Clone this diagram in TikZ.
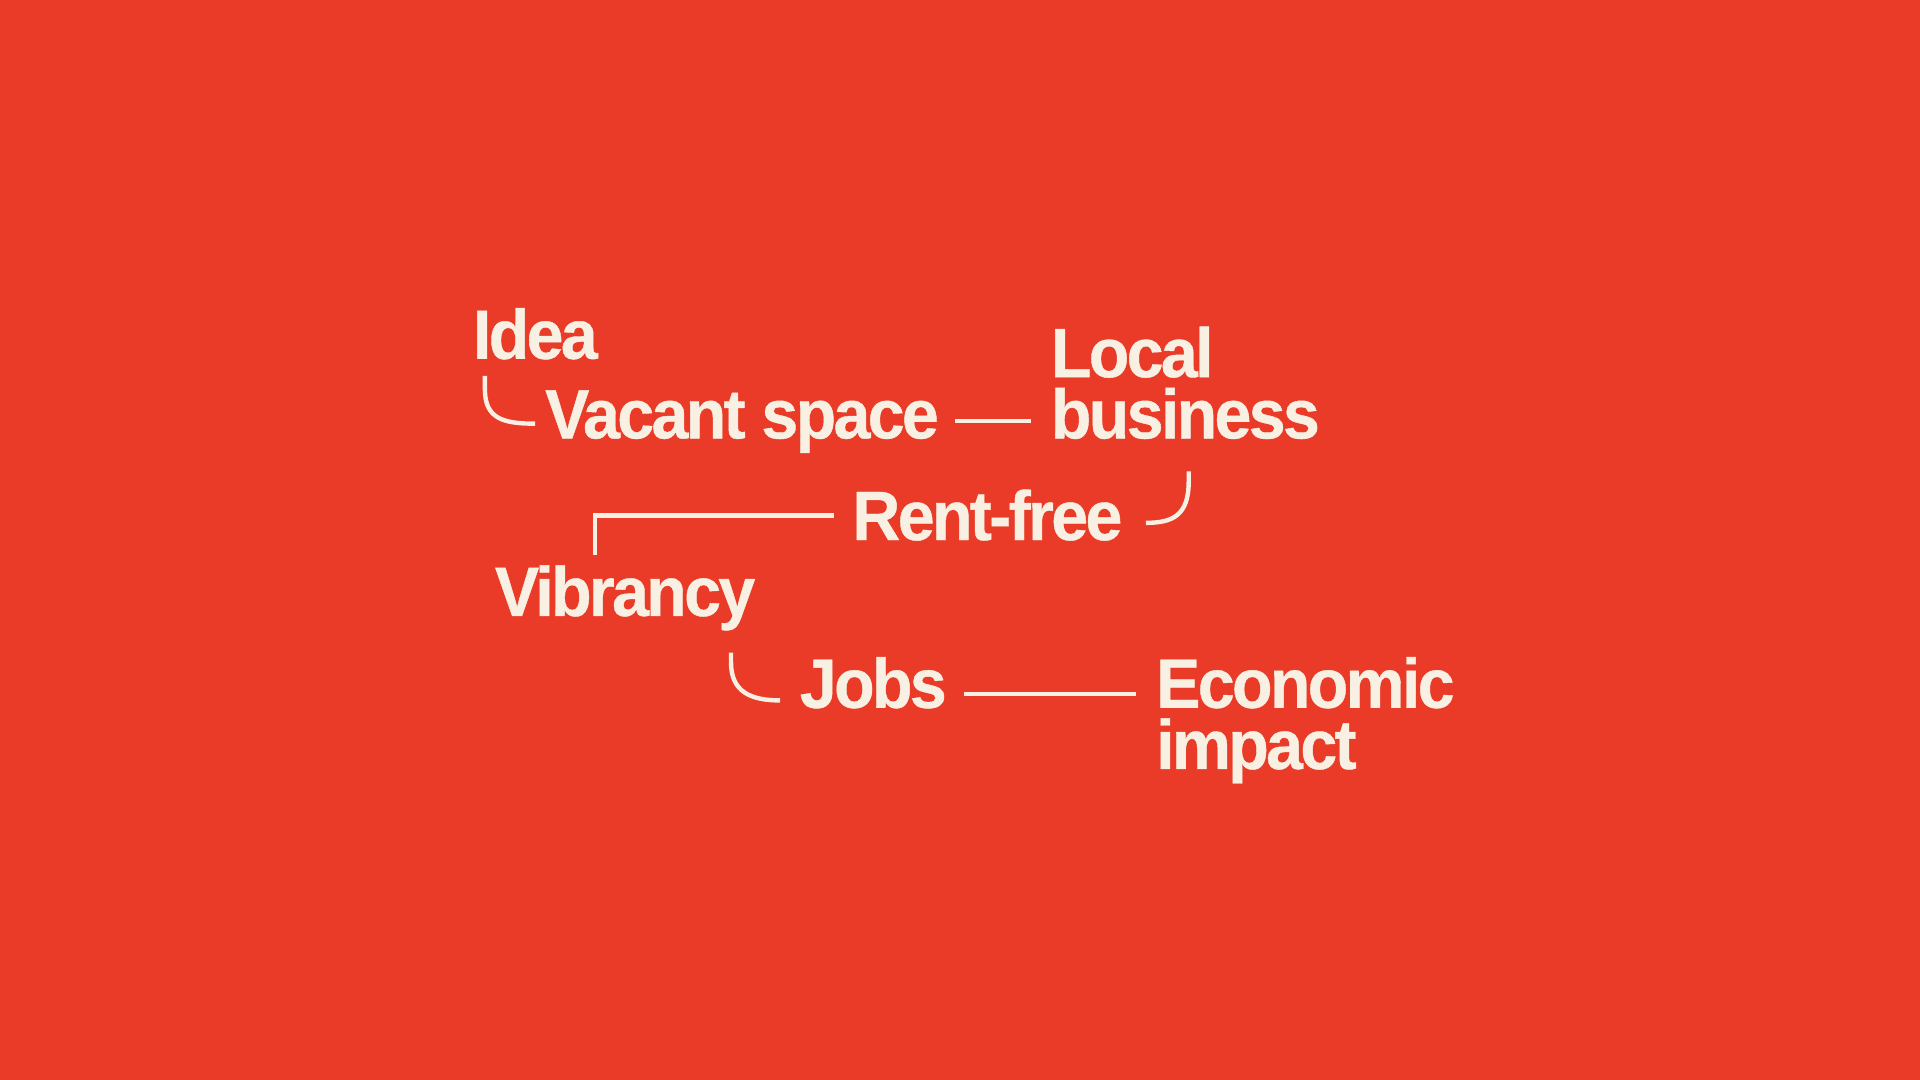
\documentclass[tikz,border=0pt]{standalone}
\usepackage{fontspec}
\usepackage{xcolor}
\usepackage{tikz}
\usetikzlibrary{positioning}
\newfontfamily\labelfont{Liberation Sans Bold}[FakeStretch=0.95,LetterSpace=-3.8,FakeBold=0.6]
\definecolor{bgred}{HTML}{E93B27}
\definecolor{cream}{HTML}{F8F0E3}

\begin{document}
\begin{tikzpicture}[x=1pt, y=-1pt,
    word/.style={anchor=base west, inner sep=0pt, text=cream, align=left,
        font=\labelfont\fontsize{57}{50}\selectfont},
    link/.style={draw=cream, line width=3.6pt}
]
    \fill[bgred] (0,0) rectangle (1568,882);
    \useasboundingbox (0,0) rectangle (1568,882);

    \node[word] (idea) at (386,293) {Idea};
    \node[word] (vacant) at (445,358) {Vacant space};
    \node[word] (localbiz) at (858,358) {Local\\business};
    \node[word] (rentfree) at (696,441) {Rent-free};
    \node[word] (vibrancy) at (404,503) {Vibrancy};
    \node[word] (jobs) at (653,578) {Jobs};
    \node[word] (econ) at (944,628) {Economic\\impact};

    \path (vacant.base -| localbiz.west) coordinate (bizbase);
    \path (jobs.base -| econ.west) coordinate (econbase);

    % hooks
    \draw[link] ([xshift=10pt,yshift=-14pt]idea.base west) -- ++(0,11)
        .. controls +(0,24) and +(-26,0) .. ([xshift=-8pt,yshift=12pt]vacant.base west);
    \draw[link] ([xshift=54pt,yshift=56pt]rentfree.base east) -- ++(0,8)
        .. controls +(0,28) and +(22,0) .. ([xshift=19pt,yshift=14pt]rentfree.base east);
    \draw[link] ([xshift=193pt,yshift=-30pt]vibrancy.base west) -- ++(0,8)
        .. controls +(0,24) and +(-24,0) .. ([xshift=-16pt,yshift=6pt]jobs.base west);

    % straight links
    \draw[link] ([xshift=13pt,yshift=14pt]vacant.base east) -- ([xshift=-16pt,yshift=14pt]bizbase);
    \draw[link] ([xshift=-15pt,yshift=20pt]rentfree.base west) -| ([xshift=82pt,yshift=50pt]vibrancy.base west);
    \draw[link] ([xshift=14pt,yshift=11pt]jobs.base east) -- ([xshift=-16pt,yshift=11pt]econbase);
\end{tikzpicture}
\end{document}
